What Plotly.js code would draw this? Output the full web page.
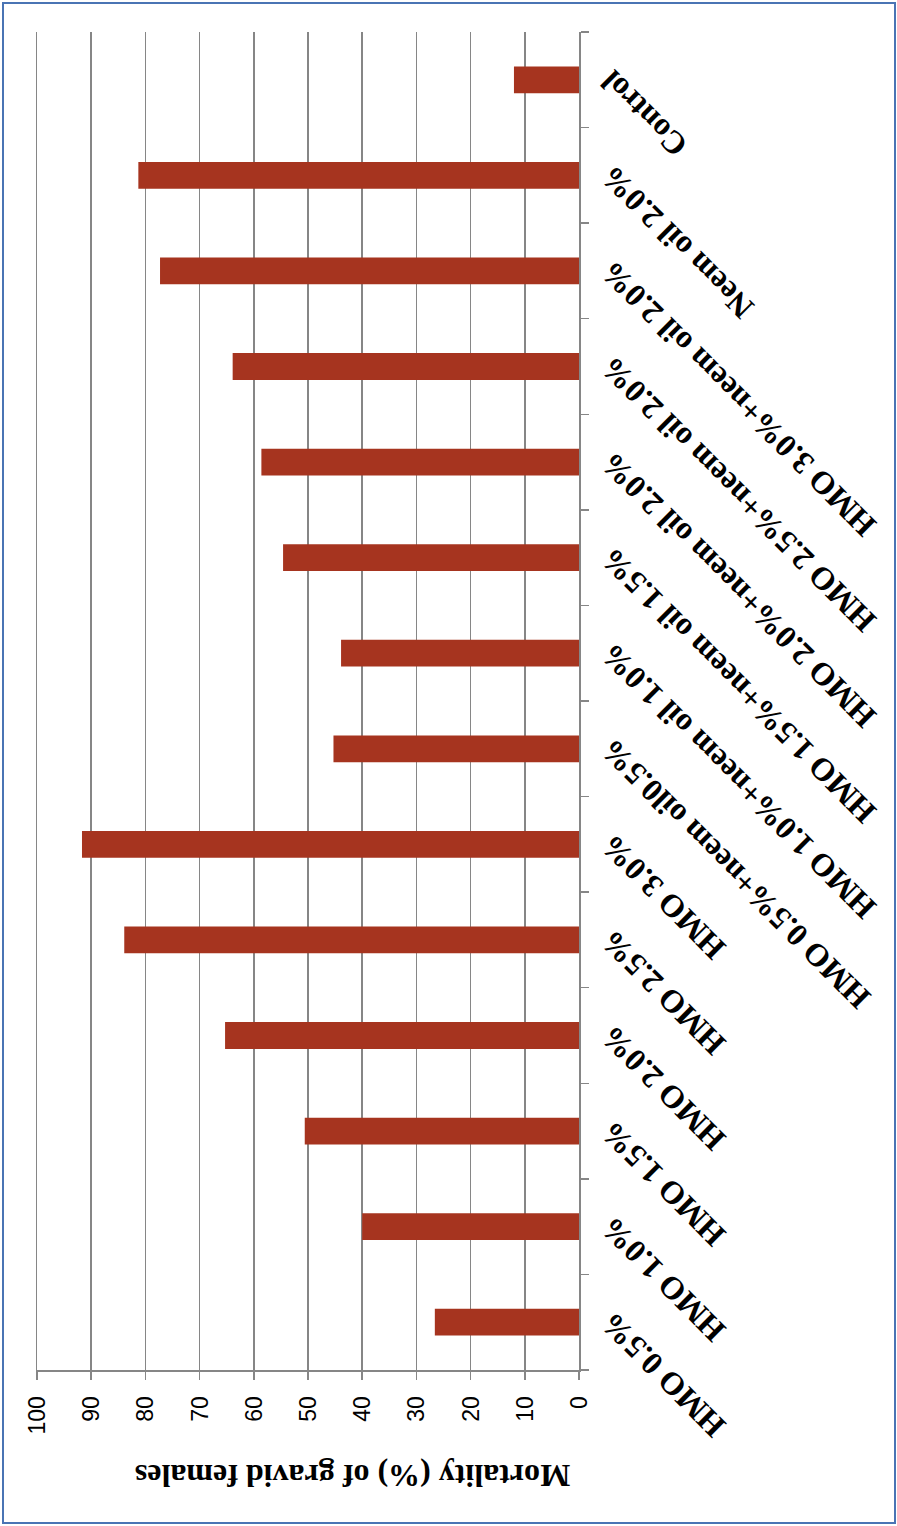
<!DOCTYPE html>
<html>
<head>
<meta charset="utf-8">
<script src="https://cdn.plot.ly/plotly-3.0.1.min.js"></script>
<style>
  html, body { margin: 0; padding: 0; width: 897px; height: 1526px; overflow: hidden; background: #ffffff; }
  #frame { position: absolute; left: 2px; top: 2px; width: 890px; height: 1518px; border: 2px solid #4a74b4; box-sizing: content-box; pointer-events: none; z-index: 5; }
  #chart { position: absolute; left: 0; top: 0; width: 1526px; height: 897px; transform-origin: 0 0; transform: translateY(1526px) rotate(-90deg); }
</style>
</head>
<body>
<div id="chart"></div>
<div id="frame"></div>
<script>
// ---- data ----
const categories = [
  "HMO 0.5%",
  "HMO 1.0%",
  "HMO 1.5%",
  "HMO 2.0%",
  "HMO 2.5%",
  "HMO 3.0%",
  "HMO 0.5%+neem oil0.5%",
  "HMO 1.0%+neem oil 1.0%",
  "HMO 1.5%+neem oil 1.5%",
  "HMO 2.0%+neem oil 2.0%",
  "HMO 2.5%+neem oil 2.0%",
  "HMO 3.0%+neem oil 2.0%",
  "Neem oil 2.0%",
  "Control"
];
const mortality = [26.6, 40.0, 50.6, 65.3, 83.9, 91.7, 45.3, 43.9, 54.6, 58.6, 63.9, 77.3, 81.3, 12.0];
const valueTicks = [0, 10, 20, 30, 40, 50, 60, 70, 80, 90, 100];
const valueTitle = "Mortality (%) of gravid females";

const trace = {
  type: "bar",
  x: categories,
  y: mortality,
  marker: { color: "#a6341f", line: { width: 0 } },
  hoverinfo: "x+y"
};

const layout = {
  width: 1526,
  height: 897,
  margin: { l: 156, r: 32, t: 37, b: 318, pad: 0 },
  paper_bgcolor: "#ffffff",
  plot_bgcolor: "#ffffff",
  showlegend: false,
  bargap: 0.72,
  xaxis: {
    type: "category",
    tickangle: -45,
    tickfont: { family: "Liberation Serif, Times New Roman, serif", size: 32, color: "#000000", weight: "bold" },
    ticks: "outside",
    tickson: "boundaries",
    ticklen: 8,
    tickcolor: "#868686",
    tickwidth: 1.5,
    showline: true,
    mirror: true,
    linecolor: "#868686",
    linewidth: 1.5,
    showgrid: false,
    zeroline: false
  },
  yaxis: {
    range: [0, 100],
    tickvals: valueTicks,
    ticktext: valueTicks.map(String),
    tickfont: { family: "Liberation Sans, Arial, sans-serif", size: 23, color: "#000000" },
    ticks: "outside",
    ticklen: 8,
    tickcolor: "#868686",
    tickwidth: 1.5,
    ticklabelstandoff: 12,
    showline: true,
    linecolor: "#868686",
    linewidth: 1.5,
    showgrid: true,
    gridcolor: "#868686",
    gridwidth: 1.5,
    zeroline: false
  },
  annotations: [{
    text: valueTitle,
    xref: "paper", yref: "paper",
    x: -0.079, y: 0.417,
    xanchor: "center", yanchor: "middle",
    textangle: -90,
    showarrow: false,
    font: { family: "Liberation Serif, Times New Roman, serif", size: 32, color: "#000000", weight: "bold" }
  }]
};

Plotly.newPlot("chart", [trace], layout, { staticPlot: true, displayModeBar: false });
</script>
</body>
</html>
